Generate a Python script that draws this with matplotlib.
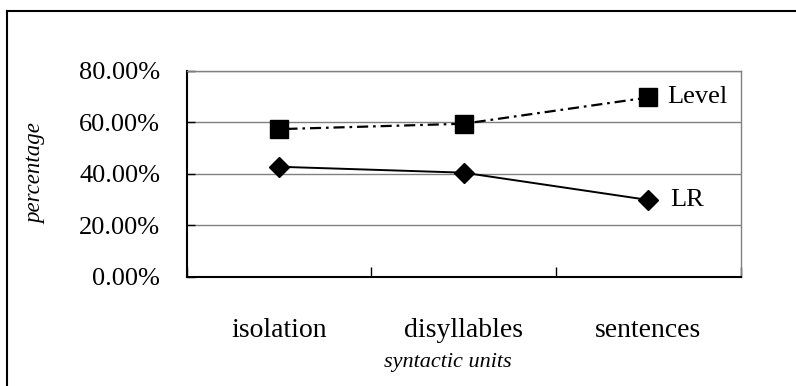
import matplotlib
matplotlib.use("Agg")
import matplotlib.pyplot as plt
from matplotlib.ticker import FixedLocator, PercentFormatter

plt.rcParams["font.family"] = ["Liberation Serif", "DejaVu Serif"]

units = ["isolation", "disyllables", "sentences"]
level = [57.3, 59.4, 69.6]
lr = [42.7, 40.4, 29.8]
y_ticks = [0, 20, 40, 60, 80]

fig = plt.figure(figsize=(7.96, 3.86), dpi=100)

# outer chart border (only top and left visible in the crop)
fig.add_artist(plt.Line2D([6.5 / 796, 6.5 / 796], [0, 1 - 10.5 / 386],
                          color="black", lw=1.5, transform=fig.transFigure))
fig.add_artist(plt.Line2D([6.5 / 796, 1], [1 - 10.5 / 386, 1 - 10.5 / 386],
                          color="black", lw=1.5, transform=fig.transFigure))

ax = fig.add_axes([186.5 / 796, 1 - 276.7 / 386, (740.7 - 186.5) / 796, (276.7 - 70.7) / 386])

x = list(range(len(units)))
ax.plot(x, level, color="black", lw=1.6, linestyle=(0, (1.2, 2.2, 5, 2.2)),
        marker="s", ms=12.5, zorder=3)
ax.plot(x, lr, color="black", lw=1.4, marker="D", ms=10.5, zorder=3)

ax.text(x[-1] + 0.1, level[-1], "Level", fontsize=19, va="center", ha="left")
ax.text(x[-1] + 0.12, lr[-1], "LR", fontsize=19, va="center", ha="left")

ax.set_xlim(-0.5, len(units) - 0.5)
ax.set_ylim(0, 80)
ax.yaxis.set_major_locator(FixedLocator(y_ticks))
ax.yaxis.set_major_formatter(PercentFormatter(decimals=2))
ax.grid(axis="y", color="#808080", lw=1)
ax.set_axisbelow(True)

ax.set_xticks([i - 0.5 for i in range(len(units) + 1)])
ax.set_xticklabels([])
ax.set_xticks(x, units, minor=True)
ax.tick_params(axis="x", which="major", direction="in", length=7, width=1, color="black")
ax.tick_params(axis="x", which="minor", length=0, pad=30, labelsize=20)
ax.tick_params(axis="y", direction="in", length=6, width=1, labelsize=19, pad=19)

for s in ["left", "bottom"]:
    ax.spines[s].set_color("black")
    ax.spines[s].set_linewidth(1.5)
for s in ["top", "right"]:
    ax.spines[s].set_color("#808080")
    ax.spines[s].set_linewidth(1)

ax.set_xlabel("syntactic units", fontsize=16, style="italic", va="center")
ax.xaxis.set_label_coords((448 - 186.5) / 554.2, -(362 - 276.7) / 206)
ax.set_ylabel("percentage", fontsize=16.5, style="italic", va="center")
ax.yaxis.set_label_coords(-(186.5 - 36) / 554.2, 0.5)

fig.savefig("out.png", dpi=100)
